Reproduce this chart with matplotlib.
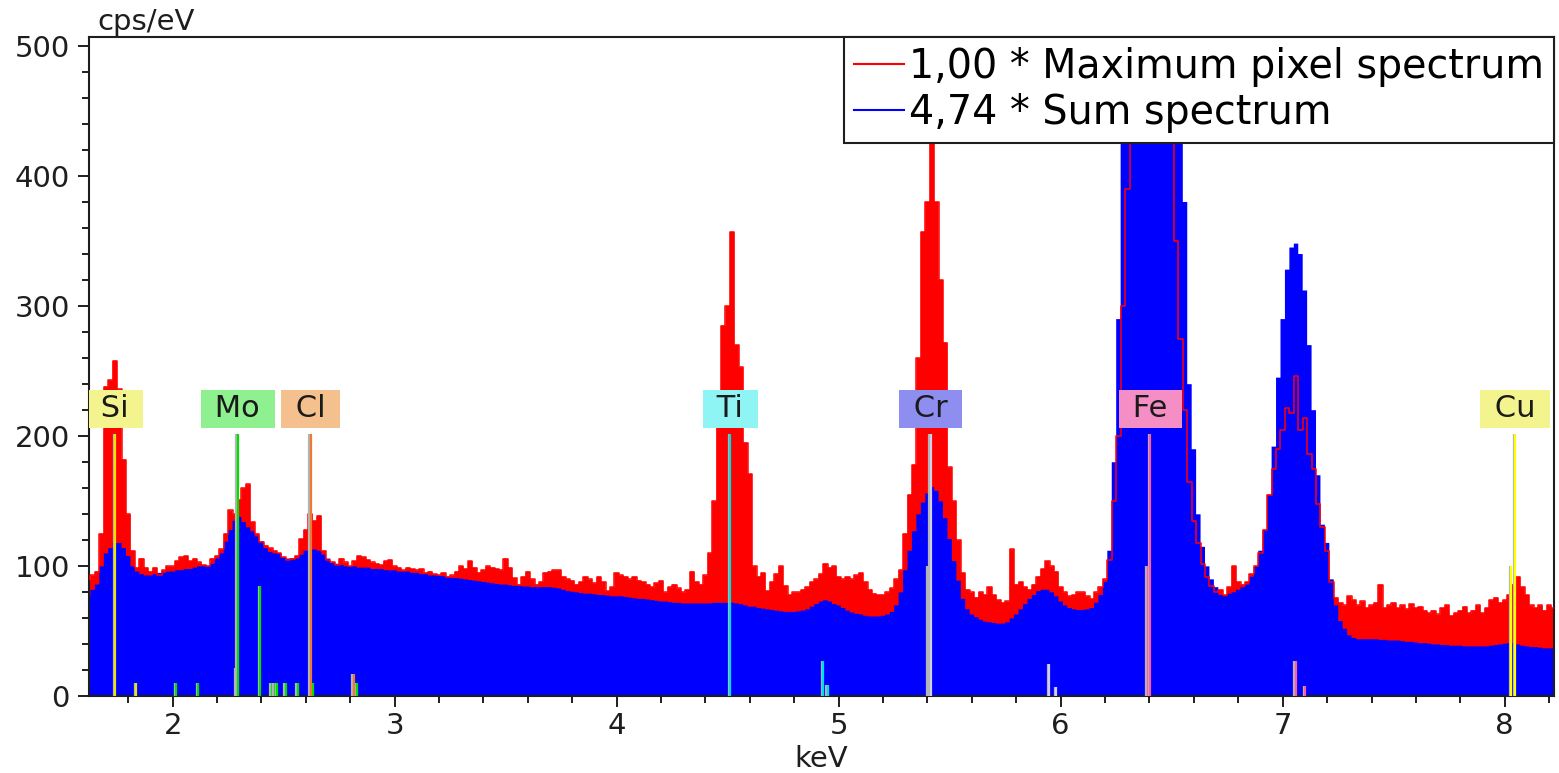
import numpy as np
import matplotlib
import matplotlib.pyplot as plt
import matplotlib.patheffects as pe
from matplotlib.lines import Line2D
from matplotlib.ticker import MultipleLocator

matplotlib.use("Agg")

plt.rc('font', family='DejaVu Sans', size=21)
TEXT_COLOR = "#1e1e1e"

# --- Spectrum channels (keV) ---
CHANNEL_START = 1.62
CHANNEL_WIDTH = 0.02

# Maximum pixel spectrum, cps/eV (scale factor 1.00)
max_pixel = [
    90, 93, 96, 125, 238, 243, 258, 236, 182, 140,
    112, 99, 106, 99, 96, 99, 93, 97, 100, 100,
    104, 107, 108, 104, 106, 103, 101, 100, 106, 108,
    113, 125, 143, 140, 151, 160, 163, 134, 125, 119,
    116, 114, 112, 110, 107, 105, 106, 108, 121, 128,
    140, 135, 139, 112, 105, 103, 101, 106, 103, 100,
    104, 108, 107, 105, 103, 102, 101, 104, 105, 100,
    99, 97, 99, 98, 97, 98, 95, 96, 94, 93,
    95, 92, 93, 96, 100, 98, 104, 99, 95, 97,
    100, 99, 98, 97, 106, 99, 91, 86, 92, 96,
    90, 86, 88, 95, 96, 97, 97, 92, 90, 89,
    86, 88, 92, 90, 87, 92, 88, 81, 84, 95,
    93, 92, 90, 92, 89, 88, 86, 84, 87, 89,
    80, 84, 86, 83, 80, 82, 96, 88, 86, 93,
    110, 150, 230, 285, 300, 357, 270, 253, 195, 171,
    100, 92, 95, 81, 88, 94, 100, 85, 78, 80,
    80, 82, 84, 88, 90, 94, 102, 99, 100, 92,
    90, 92, 90, 93, 95, 88, 82, 79, 78, 78,
    80, 83, 90, 97, 125, 155, 178, 260, 357, 380,
    427, 380, 320, 272, 176, 150, 120, 95, 82, 80,
    76, 80, 78, 84, 78, 74, 72, 73, 113, 86,
    88, 84, 82, 86, 92, 98, 104, 100, 96, 84,
    80, 77, 78, 80, 80, 77, 75, 80, 84, 90,
    105, 150, 200, 300, 390, 540, 1100, 2600, 4300, 5200,
    4800, 3500, 1900, 900, 450, 350, 275, 220, 165, 135,
    118, 102, 92, 85, 80, 82, 78, 84, 100, 88,
    86, 88, 94, 100, 110, 128, 155, 175, 190, 205,
    222, 218, 246, 205, 214, 186, 175, 148, 130, 112,
    88, 76, 72, 70, 77, 74, 70, 73, 68, 70,
    72, 86, 68, 70, 72, 68, 70, 67, 71, 68,
    69, 66, 64, 66, 63, 68, 70, 62, 64, 66,
    69, 64, 66, 70, 64, 68, 74, 76, 72, 74,
    78, 86, 92, 84, 78, 70, 68, 70, 66, 70,
    68,
]

# Sum spectrum, cps/eV, already multiplied by 4.74
sum_spectrum = [
    77, 82, 86, 100, 110, 114, 118, 118, 114, 108,
    100, 96, 94, 93, 93, 94, 95, 95, 96, 96,
    97, 97, 98, 98, 99, 100, 100, 100, 102, 106,
    110, 119, 128, 135, 138, 134, 130, 127, 123, 119,
    114, 111, 110, 110, 107, 106, 106, 106, 109, 112,
    113, 113, 112, 109, 106, 103, 102, 101, 100, 100,
    100, 99, 99, 99, 98, 98, 98, 97, 97, 97,
    96, 96, 96, 95, 95, 94, 94, 93, 93, 93,
    92.5, 92, 91, 91, 90.5, 90, 89.5, 89, 88.5, 88,
    87.5, 87, 86.5, 86, 86, 85.5, 85, 85, 84.5, 84.5,
    84, 84, 84, 84, 84, 83.5, 83, 82, 81, 80.5,
    80, 79.5, 79, 79, 78.5, 78, 78, 77.5, 77, 77,
    77, 76.5, 76, 75.5, 75, 75, 74.5, 74, 73.5, 73,
    73, 72.5, 72, 72, 71.5, 71.5, 71.5, 71.5, 71.5, 71.5,
    71.5, 72, 72, 72, 72, 72, 71.5, 71, 70, 69,
    69, 68, 67.5, 67, 66.5, 66, 65.5, 65, 65, 65,
    65.5, 66, 67, 69, 71, 73, 74, 73, 71, 70,
    68, 66, 64.5, 63.5, 63, 62, 61.5, 61.5, 61.5, 62,
    63, 65, 70, 80, 97, 112, 127, 140, 149, 156,
    161, 158, 150, 137, 121, 104, 89, 75, 67, 63,
    61, 59, 57.5, 57, 56.5, 56, 56, 57, 60, 63,
    67, 71, 75, 78, 81, 82, 82, 80, 77, 73,
    70, 68, 67, 66.5, 66.5, 67, 68, 72, 78, 88,
    112, 180, 290, 560, 1500, 4000, 9000, 16000, 22000, 25000,
    23000, 17000, 10000, 5000, 2200, 1100, 640, 380, 240, 190,
    140, 115, 100, 90, 84, 78, 77, 79, 80, 82,
    84, 86, 92, 100, 112, 128, 155, 192, 245, 290,
    328, 345, 348, 340, 312, 270, 220, 170, 132, 118,
    90, 70, 58, 52, 47, 45, 44, 44, 44, 44,
    44, 43.5, 43.5, 43, 43, 43, 42.5, 42, 42, 41.5,
    41, 41, 40.5, 40, 40, 39.5, 39.5, 39, 39, 39,
    38.5, 38.5, 38.5, 38.5, 38.5, 38.5, 39, 39.5, 40, 40.5,
    41, 41, 40, 39, 38.5, 38, 38, 37.5, 37, 37,
    37,
]

energy = CHANNEL_START + CHANNEL_WIDTH * np.arange(len(max_pixel))

# --- Element identification ---
elements = ["Si", "Mo", "Cl", "Ti", "Cr", "Fe", "Cu"]
label_energy = [1.740, 2.293, 2.622, 4.511, 5.415, 6.404, 8.048]
label_face = ["#f4f48e", "#8ef08e", "#f4c08e", "#8ef4f4", "#8e8ef0", "#f48ec4", "#f4f48e"]
line_color = ["#e6e600", "#00e000", "#f07830", "#00dede", "#cfcff2", "#ff5aa5", "#ffff00"]
LABEL_LEVEL = 221

# characteristic lines: energy (keV), marker height, element
line_energy = [1.740, 1.836,
               2.016, 2.114, 2.289, 2.293, 2.395, 2.447, 2.459, 2.470, 2.510, 2.563, 2.632, 2.830,
               2.622, 2.815,
               4.511, 4.931, 4.950,
               5.405, 5.415, 5.947, 5.980,
               6.391, 6.404, 7.058, 7.100,
               8.028, 8.048]
line_height = [202, 10,
               10, 10, 22, 202, 85, 10, 10, 10, 10, 10, 10, 10,
               202, 17,
               202, 27, 9,
               100, 202, 25, 7,
               100, 202, 27, 8,
               100, 202]
line_element = ["Si", "Si",
                "Mo", "Mo", "Mo", "Mo", "Mo", "Mo", "Mo", "Mo", "Mo", "Mo", "Mo", "Mo",
                "Cl", "Cl",
                "Ti", "Ti", "Ti",
                "Cr", "Cr", "Cr", "Cr",
                "Fe", "Fe", "Fe", "Fe",
                "Cu", "Cu"]

# --- Figure ---
fig = plt.figure(figsize=(15.59, 7.73), dpi=100)
ax = fig.add_axes([0.0569, 0.0990, 0.9399, 0.8535])

ax.fill_between(energy, max_pixel, step="mid", color="#ff0000", lw=0, zorder=1)
ax.fill_between(energy, sum_spectrum, step="mid", color="#0000ff", lw=0, zorder=2)
ax.step(energy, max_pixel, where="mid", color="#ff0000", lw=1.1, zorder=3)

shadow = [pe.SimpleLineShadow(offset=(-1.0, 0), shadow_color="#b4b4b4", alpha=1.0), pe.Normal()]
for e, h, el in zip(line_energy, line_height, line_element):
    c = line_color[elements.index(el)]
    ax.vlines(e, 0, h, colors=c, lw=1.6, zorder=4, path_effects=shadow)

for name, e, face in zip(elements, label_energy, label_face):
    ax.text(e, LABEL_LEVEL, " " + name + " ", ha="center", va="center",
            fontsize=22, color="#1a1a1a", zorder=5, clip_on=True,
            bbox=dict(boxstyle="square,pad=0.157", fc=face, ec="none"))

ax.set_xlim(1.622, 8.222)
ax.set_ylim(0, 507)

ax.xaxis.set_major_locator(MultipleLocator(1))
ax.xaxis.set_minor_locator(MultipleLocator(0.2))
ax.yaxis.set_major_locator(MultipleLocator(100))
ax.yaxis.set_minor_locator(MultipleLocator(20))
ax.tick_params(which="both", direction="out", width=1.4, colors="#1e1e1e", labelcolor=TEXT_COLOR)
ax.tick_params(which="major", length=8)
ax.tick_params(which="minor", length=5)
ax.tick_params(axis="y", pad=5.5)
ax.tick_params(axis="x", pad=3.5)
for side in ax.spines:
    ax.spines[side].set_linewidth(1.5)
    ax.spines[side].set_color("#1e1e1e")

ax.set_xlabel("keV", color=TEXT_COLOR, labelpad=3)
fig.text(97 / 1559, 1 - 30 / 773, "cps/eV", color=TEXT_COLOR, va="baseline", ha="left")

handles = [Line2D([], [], color="#ff0000", lw=1.5), Line2D([], [], color="#0000ff", lw=1.5)]
leg = ax.legend(handles, ["1,00 * Maximum pixel spectrum", "4,74 * Sum spectrum"],
                loc="upper right", fontsize=28.5, borderaxespad=0, fancybox=False,
                framealpha=1, edgecolor="#1e1e1e", handlelength=1.26, handletextpad=0.13,
                borderpad=0.25, labelspacing=0.17)
leg.get_frame().set_linewidth(1.5)
leg.set_zorder(10)

fig.savefig("out.png", dpi=100)
